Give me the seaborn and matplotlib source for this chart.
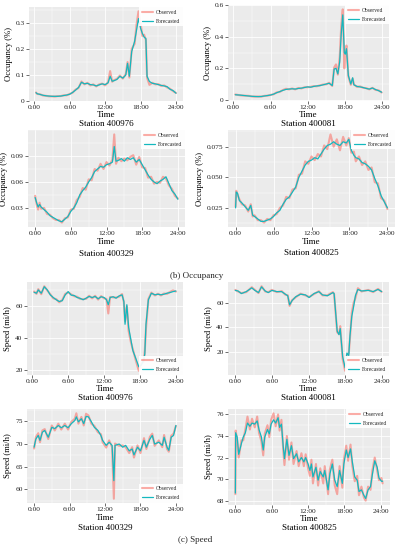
import matplotlib
matplotlib.use("Agg")
import matplotlib.pyplot as plt
import pandas as pd
import seaborn as sns
from matplotlib.ticker import FixedLocator, AutoMinorLocator

# ---------------- data ----------------
t1 = [0.3,0.5,1,1.5,2,2.5,3,3.5,4,4.5, 5,5.5,6,6.5,7,7.5,8,8.5,9,9.5,
      10,10.5,11,11.5,12,12.5,12.85,13.2,13.5,14, 14.5,15,15.5,15.8,16.1,16.5,17,17.3,17.65,18,
      18.3,18.6,18.9,19.1,19.5,20,20.5,21,21.5,22, 22.5,23,23.5,24]
f1 = [0.032,0.028,0.025,0.022,0.020,0.019,0.018,0.018,0.018,0.019, 0.021,0.023,0.026,0.033,0.042,0.052,0.072,0.066,0.068,0.063,
      0.062,0.058,0.062,0.066,0.063,0.070,0.095,0.076,0.078,0.083, 0.095,0.088,0.100,0.145,0.095,0.19,0.23,0.27,0.317,0.28,
      0.26,0.246,0.24,0.095,0.075,0.068,0.066,0.063,0.060,0.058, 0.055,0.045,0.040,0.030]
o1 = [0.033,0.027,0.026,0.021,0.020,0.018,0.018,0.017,0.019,0.019, 0.022,0.022,0.027,0.032,0.044,0.050,0.075,0.064,0.070,0.060,
      0.064,0.056,0.064,0.067,0.060,0.072,0.115,0.074,0.080,0.085, 0.098,0.086,0.104,0.150,0.090,0.20,0.22,0.29,0.345,0.30,
      0.25,0.255,0.235,0.090,0.062,0.070,0.064,0.065,0.058,0.060, 0.052,0.047,0.038,0.031]

t2 = [0.3,1,1.5,2,2.5,3,3.5,4,4.5,5, 5.5,6,6.5,7,7.5,8,8.5,9,9.5,10,
      10.5,11,11.5,12,12.5,13,13.5,14,14.5,15, 15.5,16,16.3,16.6,16.9,17.2,17.45,17.7,17.95,18.1,
      18.3,18.6,19,19.3,19.5,20,20.5,21,21.5,22, 22.5,23,23.5,24]
f2 = [0.032,0.030,0.028,0.026,0.024,0.022,0.021,0.020,0.021,0.024, 0.027,0.030,0.036,0.045,0.052,0.060,0.066,0.068,0.070,0.068,
      0.072,0.074,0.078,0.082,0.080,0.085,0.088,0.090,0.095,0.100, 0.105,0.090,0.195,0.200,0.165,0.240,0.420,0.540,0.300,0.290,
      0.325,0.155,0.100,0.140,0.095,0.085,0.082,0.078,0.072,0.068, 0.075,0.065,0.058,0.048]
o2 = [0.034,0.029,0.027,0.026,0.025,0.021,0.020,0.021,0.020,0.025, 0.026,0.031,0.035,0.047,0.050,0.062,0.070,0.066,0.072,0.066,
      0.075,0.072,0.080,0.080,0.082,0.087,0.086,0.092,0.097,0.098, 0.108,0.088,0.205,0.225,0.160,0.270,0.470,0.575,0.200,0.300,
      0.345,0.150,0.095,0.135,0.098,0.082,0.085,0.076,0.074,0.066, 0.076,0.063,0.060,0.046]

t3 = [0,0.25,0.5,0.75,1,1.5,2,2.5,3,3.5, 4,4.5,5,5.5,6,6.5,7,7.5,8,8.5,
      9,9.5,10,10.5,11,11.5,12,12.5,13,13.3, 13.6,14,14.5,15,15.5,16,16.5,17,17.5,18,
      18.5,19,19.5,20,20.5,21,21.5,22,22.5,23, 23.5,24]
f3 = [0.042,0.036,0.031,0.034,0.031,0.028,0.025,0.021,0.019,0.017, 0.015,0.014,0.017,0.020,0.026,0.030,0.036,0.045,0.050,0.054,
      0.060,0.065,0.072,0.075,0.078,0.077,0.080,0.081,0.083,0.101, 0.084,0.085,0.087,0.084,0.088,0.086,0.088,0.083,0.086,0.080,
      0.074,0.068,0.063,0.060,0.058,0.061,0.063,0.066,0.058,0.050, 0.046,0.040]
o3 = [0.044,0.034,0.028,0.036,0.029,0.030,0.023,0.022,0.018,0.016, 0.016,0.013,0.018,0.019,0.028,0.029,0.039,0.043,0.053,0.051,
      0.063,0.062,0.075,0.073,0.081,0.075,0.083,0.079,0.086,0.115, 0.081,0.088,0.084,0.087,0.085,0.089,0.091,0.080,0.089,0.077,
      0.076,0.065,0.066,0.058,0.060,0.059,0.066,0.064,0.056,0.052, 0.044,0.041]

t4 = [0,0.1,0.3,0.6,1,1.5,2,2.4,2.7,3, 3.5,4,4.5,5,5.5,6,6.5,7,7.5,8,
      8.5,9,9.5,10,10.5,11,11.5,12,12.5,13, 13.5,14,14.5,15,15.5,16,16.5,17,17.5,17.9,
      18.3,18.7,19,19.5,20,20.5,21,21.5,22,22.5, 23,23.5,24]
f4 = [0.025,0.038,0.037,0.031,0.029,0.026,0.023,0.027,0.019,0.018, 0.016,0.014,0.014,0.015,0.016,0.018,0.021,0.023,0.028,0.032,
      0.034,0.038,0.042,0.050,0.055,0.060,0.063,0.064,0.066,0.065, 0.069,0.073,0.076,0.077,0.079,0.077,0.076,0.079,0.078,0.081,
      0.072,0.068,0.066,0.065,0.062,0.061,0.059,0.056,0.049,0.043, 0.035,0.030,0.025]
o4 = [0.026,0.039,0.036,0.032,0.028,0.027,0.022,0.028,0.018,0.019, 0.015,0.015,0.013,0.016,0.015,0.019,0.020,0.025,0.027,0.034,
      0.033,0.040,0.041,0.052,0.053,0.063,0.061,0.067,0.064,0.069, 0.067,0.076,0.073,0.085,0.075,0.081,0.072,0.083,0.076,0.082,
      0.070,0.071,0.063,0.067,0.060,0.063,0.056,0.058,0.046,0.045, 0.033,0.031,0.024]

t5 = [0.3,0.7,1,1.5,2,2.5,3,3.5,4,4.5, 5,5.5,6,6.5,7,7.5,8,8.5,9,9.5,
      10,10.5,11,11.5,12,12.4,12.7,13,13.5,14, 14.5,15,15.3,15.5,15.8,16.1,16.5,16.8,17.3,17.8,
      18.2,18.6,18.8,19.0,19.4,19.9,20.5,21,21.5,22, 22.5,23,23.5,24]
f5 = [68.8,68.2,70.3,68.2,72.3,70.3,67.2,65.5,64.1,63.0, 63.5,67.2,69.2,67.0,66.8,65.5,65.0,64.1,65.1,66.2,
      65.5,66.2,64.7,66.0,65.5,64.1,61.0,65.5,66.0,65.1, 66.5,67.2,63.1,48.7,61.0,46.7,38.5,32.3,27.2,22.0,
      23.0,26.0,30.0,48.7,64.1,68.2,67.2,67.6,67.2,67.6, 68.2,68.6,69.2,69.6]
o5 = [69.3,67.8,70.8,67.6,72.6,70.0,67.6,65.0,64.5,62.5, 63.9,67.8,68.7,67.5,66.3,66.0,64.6,64.5,64.7,66.6,
      65.0,66.6,64.2,66.4,65.0,64.6,55.5,65.9,65.6,65.5, 66.0,67.7,62.5,50.5,60.0,44.5,37.0,33.0,26.0,19.5,
      24.0,25.0,32.0,46.0,64.6,68.6,66.8,67.9,66.8,68.0, 67.8,69.0,70.0,69.2]

t6 = [0,0.45,1,1.8,2.7,3.2,3.8,4.3,4.9,5.4, 6,6.8,7.6,8.2,8.6,8.9,9.3,9.9,10.7,11.5,
      12.1,12.9,13.7,14.3,15.1,16,16.2,16.7,17,17.2, 17.6,18,18.3,18.6,18.8,19.1,19.4,19.7,20.1,20.7,
      21.8,22.6,23.4,24]
f6 = [70.2,69.7,67.6,69.2,72.3,70.2,68.4,73.1,69.7,68.4, 70.2,69.2,69.2,67.1,65.8,58.4,61.8,65.0,67.1,66.5,
      64.4,67.6,69.2,66.5,65.8,68.4,67.6,37.0,34.0,39.0, 16.0,7.0,19.0,17.0,33.0,49.0,57.0,66.0,71.0,69.7,
      70.2,69.2,71.0,69.2]
o6 = [70.6,69.3,68.0,68.8,72.8,70.6,68.0,73.6,69.3,68.8, 70.6,68.8,69.6,66.7,66.2,57.5,62.2,64.6,67.5,66.1,
      64.8,67.2,69.6,66.1,66.2,68.8,67.2,36.0,34.5,41.0, 14.0,4.5,18.0,18.5,31.0,52.0,60.0,64.0,72.0,69.3,
      70.6,68.8,71.4,69.0]

t7 = [0,0.3,0.7,1,1.4,1.8,2.4,3,3.5,4.1, 4.6,5.2,5.75,6.3,6.9,7.15,7.5,8,8.4,8.8,
      9.2,9.7,10.2,10.8,11.3,11.6,12.2,12.7,13.2,13.5, 13.7,14.4,15,15.5,16.1,16.6,16.9,17.5,18,18.6,
      19,19.6,20,20.4,21.1,21.7,22,22.5,22.8,23.2, 23.6,24]
f7 = [69.3,71.1,71.9,70.8,72.6,73.0,71.5,73.7,73.4,74.1, 73.6,74.1,73.6,74.5,75.2,76.0,74.9,75.6,74.5,76.1,
      76.0,74.9,73.7,73.0,71.9,70.8,69.7,70.4,69.7,61.9, 69.7,70.0,69.3,69.7,68.5,68.9,67.6,69.3,68.5,70.8,
      69.3,71.1,71.9,70.0,70.4,69.7,71.5,69.3,68.6,71.5, 71.9,74.1]
o7 = [69.0,71.5,72.4,70.4,73.0,73.3,71.1,74.1,73.0,74.5, 73.2,74.5,73.2,74.9,75.6,76.8,74.5,76.0,74.1,76.7,
      76.3,74.5,74.0,72.6,72.2,70.4,69.2,70.8,69.3,57.9, 70.1,69.6,69.7,69.3,68.0,69.3,67.0,69.7,68.0,71.3,
      68.9,71.6,72.3,69.6,70.8,69.3,72.0,68.9,68.3,71.8, 72.3,74.0]

t8 = [0,0.05,0.3,0.55,1,1.3,1.65,2,2.4,2.75, 3.2,3.6,3.9,4.3,4.6,4.85,5.3,5.6,5.9,6.3,
      6.65,7.05,7.3,7.6,7.9,8.1,8.5,8.85,9.25,9.6, 10.1,10.45,10.9,11.3,11.6,12,12.3,12.55,12.8,13.3,
      13.65,14,14.5,14.75,15.3,15.6,16,16.4,16.8,17.2, 17.65,17.9,18.3,18.6,19,19.3,19.7,20.1,20.4,20.8,
      21.2,21.5,21.9,22.3,22.6,23,23.4,23.7,24.1,24.3]
f8 = [68.7,74.3,73.9,72.3,73.3,73.9,74.3,75.2,74.9,75.2, 75.1,75.4,74.6,73.9,72.7,73.9,74.6,74.2,75.1,75.5,
      75.2,75.7,74.8,75.1,73.0,71.9,73.7,72.2,73.1,71.9, 72.35,71.6,72.0,71.6,72.0,71.4,70.8,71.4,70.2,71.1,
      69.9,70.7,70.2,70.8,69.0,70.5,71.4,69.9,69.3,70.8, 69.6,71.4,72.7,72.0,72.8,71.6,70.2,69.9,68.85,69.0,
      68.5,68.2,69.0,69.3,70.4,71.7,71.1,70.1,69.8,69.8]
o8 = [68.6,74.5,73.6,72.0,73.6,73.6,74.6,75.8,74.6,75.6, 74.8,75.8,74.3,73.5,72.2,74.2,75.0,73.9,75.5,76.1,
      74.9,76.0,74.5,75.5,72.7,71.3,74.0,71.8,73.4,71.4, 72.6,71.2,72.4,71.2,72.3,71.0,70.3,71.8,69.6,71.4,
      69.4,71.0,69.6,71.2,68.6,70.9,71.8,69.4,68.6,71.2, 69.2,71.8,73.1,71.7,73.2,71.2,69.8,70.3,68.5,69.3,
      68.3,68.0,69.3,69.0,70.8,72.0,70.8,69.9,70.1,69.6]

stations = ["Station 400976", "Station 400081", "Station 400329", "Station 400825",
            "Station 400976", "Station 400081", "Station 400329", "Station 400825"]
ylabels = ["Occupancy (%)"] * 4 + ["Speed (mi/h)"] * 4
yticks = [[0, 0.1, 0.2, 0.3], [0, 0.2, 0.4, 0.6], [0.03, 0.06, 0.09], [0.025, 0.050, 0.075],
          [20, 40, 60], [20, 40, 60], [60, 65, 70, 75], [68, 70, 72, 74, 76]]
yticklabels = [["0", "0.1", "0.2", "0.3"], ["0", "0.2", "0.4", "0.6"], ["0.03", "0.06", "0.09"],
               ["0.025", "0.050", "0.075"], ["20", "40", "60"], ["20", "40", "60"],
               ["60", "65", "70", "75"], ["68", "70", "72", "74", "76"]]
xticks = [0, 6, 12, 18, 24]
xticklabels = ["0:00", "6:00", "12:00", "18:00", "24:00"]
captions = ["(b) Occupancy", "(c) Speed"]

hours = [t1, t2, t3, t4, t5, t6, t7, t8]
observed = [o1, o2, o3, o4, o5, o6, o7, o8]
forecast = [f1, f2, f3, f4, f5, f6, f7, f8]

# ---------------- style / layout ----------------
sns.set_theme(style="darkgrid", rc={
    "axes.facecolor": "#EBEBEB", "grid.color": "white",
    "axes.edgecolor": "#EBEBEB", "xtick.bottom": True, "ytick.left": True,
})
plt.rcParams["font.family"] = ["Liberation Serif", "DejaVu Serif"]

OBS_C = "#F8766D"
FC_C = "#13B8BE"

W, H = 398, 550
fig = plt.figure(figsize=(W / 100, H / 100), dpi=100)

# axes boxes in pixels: left, top, right, bottom
boxes = [(29, 7, 183, 101), (228, 5, 389, 101),
         (28, 130, 185, 227), (228, 130, 395, 227),
         (27, 282, 183, 375), (228, 282, 389, 375),
         (27, 409, 183, 503), (228, 409, 390, 505)]
time_y = [115, 115, 241.5, 242.5, 389, 389, 517.5, 519]
station_y = [124.5, 124.5, 254, 253, 397.5, 397.5, 528, 528.5]
legend_loc = ["upper right"] * 4 + ["lower right"] * 3 + ["upper right"]

for i in range(8):
    l, t, r, b = boxes[i]
    ax = fig.add_axes([l / W, 1 - b / H, (r - l) / W, (b - t) / H])
    n = len(hours[i])
    df = pd.DataFrame({"Time": hours[i] * 2,
                       "value": observed[i] + forecast[i],
                       "series": ["Observed"] * n + ["Forecasted"] * n})
    sns.lineplot(data=df[df.series == "Observed"], x="Time", y="value", ax=ax,
                 color=OBS_C, lw=1.5, alpha=0.6, label="Observed",
                 estimator=None, sort=False)
    sns.lineplot(data=df[df.series == "Forecasted"], x="Time", y="value", ax=ax,
                 color=FC_C, lw=0.9, label="Forecasted",
                 estimator=None, sort=False)
    ax.set_xticks(xticks)
    ax.set_xticklabels(xticklabels)
    ax.set_yticks(yticks[i])
    ax.set_yticklabels(yticklabels[i])
    ax.xaxis.set_minor_locator(FixedLocator([3, 9, 15, 21]))
    ax.yaxis.set_minor_locator(AutoMinorLocator(2))
    ax.grid(which="major", color="white", lw=0.6)
    ax.grid(which="minor", color="white", lw=0.3)
    ax.tick_params(which="major", labelsize=5.3, length=2, width=0.5,
                   color="#333333", labelcolor="#222222", pad=1.2)
    ax.tick_params(which="minor", length=0)
    for s in ax.spines.values():
        s.set_visible(False)
    ax.set_ylabel(ylabels[i], fontsize=6.2, labelpad=2, color="black")
    ax.set_xlabel("Time", fontsize=6.5, color="black", va="center")
    ax.xaxis.set_label_coords((l + r) / 2 / W, 1 - time_y[i] / H, transform=fig.transFigure)
    leg = ax.legend(loc=legend_loc[i], fontsize=4.0, frameon=True, fancybox=False,
                    facecolor="white", edgecolor="none", framealpha=0.92,
                    handlelength=2.0, handletextpad=0.6, labelspacing=0.7,
                    borderpad=0.5, borderaxespad=0.0)
    cx = (l + r) / 2
    fig.text(cx / W, 1 - station_y[i] / H, stations[i], ha="center", va="center",
             fontsize=6.5, color="black")

fig.text(197 / W, 1 - 276 / H, captions[0], ha="center", va="center", fontsize=6.5)
fig.text(195 / W, 1 - 540 / H, captions[1], ha="center", va="center", fontsize=6.5)

fig.savefig("out.png", dpi=100)
